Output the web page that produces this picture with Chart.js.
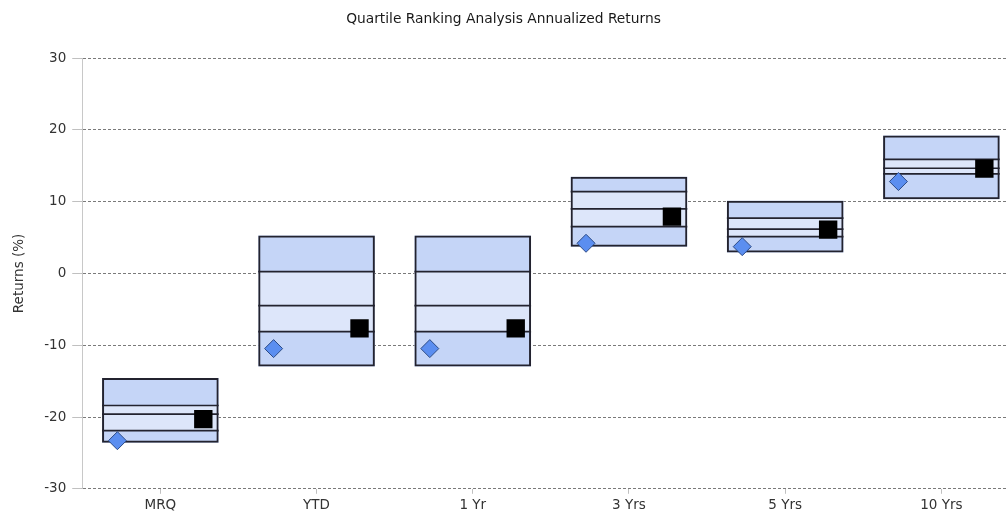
<!DOCTYPE html>
<html><head><meta charset="utf-8">
<script src="https://cdn.jsdelivr.net/npm/chart.js@4/dist/chart.umd.min.js"></script>
<style>html,body{margin:0;padding:0;background:#fff;overflow:hidden}</style>
</head><body><canvas id="c" width="1007" height="515"></canvas>
<script>
const categories = ['MRQ', 'YTD', '1 Yr', '3 Yrs', '5 Yrs', '10 Yrs'];
const boxTop    = [-14.55, 5.3, 5.3, 13.48, 10.14, 19.2];
const quart1    = [-18.4, 0.25, 0.25, 11.39, 7.69, 15.9];
const medianVal = [-19.6, -4.48, -4.48, 8.98, 6.16, 14.65];
const quart3    = [-21.9, -8.1, -8.1, 6.52, 5.13, 13.86];
const boxBottom = [-23.6, -12.98, -12.98, 3.73, 2.9, 10.35];
const squareVals  = [-20.3, -7.66, -7.66, 7.91, 6.1, 14.6];
const diamondVals = [-23.3, -10.47, -10.47, 4.2, 3.73, 12.8];
const yTicks = [-30, -20, -10, 0, 10, 20, 30];

const MARK_OFFSET = 0.275;
const BOX_RATIO = 0.7465;
const HALF = BOX_RATIO / 2;
const FONT = "'DejaVu Sans', sans-serif";
const FS = 13.5;
const DARK = '#c5d5f7', LIGHT = '#dde6fa', EDGE = '#23232f';

function band(lo, hi, color) {
  return {
    type: 'bar', order: 2, grouped: false,
    data: categories.map((c, i) => ({x: i, y: [lo[i], hi[i]]})),
    backgroundColor: color, borderWidth: 0,
    barPercentage: BOX_RATIO, categoryPercentage: 1
  };
}
function quartLine(vals) {
  const pts = [];
  categories.forEach((c, i) => {
    pts.push({x: i - HALF, y: vals[i]}, {x: i + HALF, y: vals[i]}, {x: i + 0.5, y: null});
  });
  return {type: 'line', order: 1, data: pts, borderColor: EDGE, borderWidth: 1.7,
          pointRadius: 0, spanGaps: false, fill: false, tension: 0};
}

new Chart(document.getElementById('c'), {
  type: 'bar',
  data: {
    datasets: [
      {
        type: 'scatter', order: 0,
        data: categories.map((c, i) => ({x: i + MARK_OFFSET, y: squareVals[i]})),
        pointStyle: 'rect', pointRadius: 13, backgroundColor: '#000', borderColor: '#000', borderWidth: 0
      },
      {
        type: 'scatter', order: 0,
        data: categories.map((c, i) => ({x: i - MARK_OFFSET, y: diamondVals[i]})),
        pointStyle: 'rectRot', pointRadius: 9, backgroundColor: '#5b8ef0', borderColor: '#2d4b86', borderWidth: 1
      },
      {
        type: 'bar', order: 1, grouped: false,
        data: categories.map((c, i) => ({x: i, y: [boxBottom[i], boxTop[i]]})),
        backgroundColor: 'rgba(0,0,0,0)', borderColor: EDGE, borderWidth: 2, borderSkipped: false,
        barPercentage: BOX_RATIO, categoryPercentage: 1
      },
      quartLine(quart1),
      quartLine(medianVal),
      quartLine(quart3),
      band(quart1, boxTop, DARK),
      band(medianVal, quart1, LIGHT),
      band(quart3, medianVal, LIGHT),
      band(boxBottom, quart3, DARK)
    ]
  },
  options: {
    responsive: false,
    animation: false,
    layout: {autoPadding: false, padding: {left: 0, right: 0, top: 0, bottom: -3}},
    plugins: {
      legend: {display: false},
      tooltip: {enabled: false},
      title: {
        display: true, text: 'Quartile Ranking Analysis Annualized Returns',
        color: '#1a1a1a', font: {family: FONT, size: 13.8, weight: 'normal'},
        padding: {top: 11, bottom: 30.5}
      }
    },
    scales: {
      x: {
        type: 'linear', min: -0.5, max: 5.42, offset: false,
        afterBuildTicks: (s) => { s.ticks = categories.map((c, i) => ({value: i})); },
        afterFit: (s) => { s.paddingLeft = 0; s.paddingRight = 0; },
        ticks: {
          color: '#333', font: {family: FONT, size: FS}, padding: 4, autoSkip: false, maxRotation: 0,
          callback: (v) => categories[v]
        },
        grid: {offset: false, drawOnChartArea: false, drawTicks: true, tickLength: 5, tickColor: '#c0c0c0'},
        border: {display: false}
      },
      y: {
        min: -30, max: 30,
        afterBuildTicks: (s) => { s.ticks = yTicks.map(v => ({value: v})); },
        ticks: {color: '#333', font: {family: FONT, size: FS}, padding: 6},
        title: {display: true, text: 'Returns (%)', color: '#333', font: {family: FONT, size: FS}, padding: {top: 11, bottom: 11}},
        grid: {color: '#7a7a7a', tickBorderDash: [], tickColor: '#c0c0c0', tickLength: 10, lineWidth: 1},
        border: {display: true, color: '#c8c8c8', width: 1, dash: [3, 2]}
      }
    }
  }
});
</script></body></html>
